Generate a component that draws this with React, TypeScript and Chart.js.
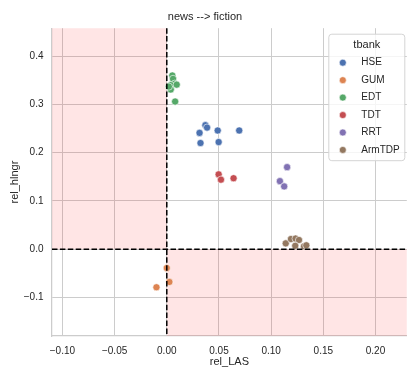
import React, { useEffect, useRef } from "react";
import { Chart, registerables } from "chart.js";
Chart.register(...registerables);

const FONT = "'Liberation Sans', Arial, sans-serif";

const seriesNames = ["HSE", "GUM", "EDT", "TDT", "RRT", "ArmTDP"];
const seriesColors = ["#4c72b0", "#dd8452", "#55a868", "#c44e52", "#8172b3", "#937860"];

const hseX = [0.037, 0.0386, 0.0314, 0.0488, 0.0694, 0.0323, 0.0497];
const hseY = [0.257, 0.252, 0.241, 0.246, 0.246, 0.22, 0.222];
const gumX = [0.0, 0.0025, -0.0099];
const gumY = [-0.039, -0.068, -0.079];
const edtX = [0.0053, 0.006, 0.0076, 0.0038, 0.0095, 0.0038, 0.002, 0.008];
const edtY = [0.36, 0.353, 0.343, 0.34, 0.341, 0.331, 0.337, 0.306];
const tdtX = [0.0497, 0.0519, 0.064];
const tdtY = [0.155, 0.144, 0.147];
const rrtX = [0.1153, 0.1084, 0.1125];
const rrtY = [0.17, 0.141, 0.13];
const armX = [0.114, 0.119, 0.1234, 0.1267, 0.1231, 0.1315, 0.1337];
const armY = [0.012, 0.021, 0.022, 0.019, 0.007, 0.006, 0.008];

const seriesX = [hseX, gumX, edtX, tdtX, rrtX, armX];
const seriesY = [hseY, gumY, edtY, tdtY, rrtY, armY];

const xTicks = [-0.1, -0.05, 0.0, 0.05, 0.1, 0.15, 0.2];
const yTicks = [-0.1, 0.0, 0.1, 0.2, 0.3, 0.4];
const xRange = [-0.11, 0.23];
const yRange = [-0.18, 0.458];

const chartTitle = "news --> fiction";
const xTitle = "rel_LAS";
const yTitle = "rel_hlngr";
const legendTitle = "tbank";

const fmt = (v: number, d: number) => {
  let s = Math.abs(v) < 1e-9 ? (0).toFixed(d) : v.toFixed(d);
  return s.replace("-", "\u2212");
};

const quadrantPlugin = {
  id: "quadrants",
  beforeDatasetsDraw(chart: any) {
    const { ctx, chartArea: a, scales } = chart;
    const x0 = scales.x.getPixelForValue(0);
    const y0 = scales.y.getPixelForValue(0);
    ctx.save();
    ctx.fillStyle = "rgba(255,0,0,0.1)";
    ctx.fillRect(a.left, a.top, x0 - a.left, y0 - a.top);
    ctx.fillRect(x0, y0, a.right - x0, a.bottom - y0);
    ctx.restore();
  },
  afterDatasetsDraw(chart: any) {
    const { ctx, chartArea: a, scales } = chart;
    const x0 = scales.x.getPixelForValue(0);
    const y0 = scales.y.getPixelForValue(0);
    ctx.save();
    ctx.strokeStyle = "#000";
    ctx.lineWidth = 1.5;
    ctx.setLineDash([5.5, 2.4]);
    ctx.beginPath();
    ctx.moveTo(x0, a.top);
    ctx.lineTo(x0, a.bottom);
    ctx.stroke();
    ctx.beginPath();
    ctx.moveTo(a.left, y0);
    ctx.lineTo(a.right, y0);
    ctx.stroke();
    ctx.restore();
  },
};

const legendPlugin = {
  id: "innerLegend",
  afterDraw(chart: any) {
    const { ctx, chartArea: a } = chart;
    const w = 76;
    const h = 126.5;
    const x = a.right - 2 - w;
    const y = a.top + 6;
    const r = 3;
    ctx.save();
    ctx.beginPath();
    ctx.moveTo(x + r, y);
    ctx.lineTo(x + w - r, y);
    ctx.arcTo(x + w, y, x + w, y + r, r);
    ctx.lineTo(x + w, y + h - r);
    ctx.arcTo(x + w, y + h, x + w - r, y + h, r);
    ctx.lineTo(x + r, y + h);
    ctx.arcTo(x, y + h, x, y + h - r, r);
    ctx.lineTo(x, y + r);
    ctx.arcTo(x, y, x + r, y, r);
    ctx.closePath();
    ctx.fillStyle = "rgba(255,255,255,0.8)";
    ctx.fill();
    ctx.strokeStyle = "#d4d4d4";
    ctx.lineWidth = 1;
    ctx.stroke();

    ctx.fillStyle = "#262626";
    ctx.textBaseline = "middle";
    ctx.textAlign = "center";
    ctx.font = `11px ${FONT}`;
    ctx.fillText(legendTitle, x + w / 2, y + 11);

    ctx.textAlign = "left";
    ctx.font = `10px ${FONT}`;
    chart.data.datasets.forEach((ds: any, i: number) => {
      const cy = y + 28.5 + i * 17.45;
      ctx.beginPath();
      ctx.arc(x + 14, cy, 3.5, 0, Math.PI * 2);
      ctx.fillStyle = ds.backgroundColor;
      ctx.fill();
      ctx.strokeStyle = "#fff";
      ctx.lineWidth = 0.6;
      ctx.stroke();
      ctx.fillStyle = "#262626";
      ctx.fillText(ds.label, x + 32.5, cy);
    });
    ctx.restore();
  },
};

export default function App() {
  const ref = useRef<HTMLCanvasElement | null>(null);
  useEffect(() => {
    if (!ref.current) return;
    const datasets = seriesNames.map((name, i) => ({
      label: name,
      data: seriesX[i].map((xv, j) => ({ x: xv, y: seriesY[i][j] })),
      backgroundColor: seriesColors[i],
      borderColor: "#ffffff",
      borderWidth: 0.6,
      pointRadius: 3.6,
      pointHoverRadius: 3.6,
    }));
    const chart = new Chart(ref.current, {
      type: "scatter",
      data: { datasets },
      plugins: [quadrantPlugin, legendPlugin],
      options: {
        animation: false,
        responsive: true,
        maintainAspectRatio: false,
        layout: { padding: { left: 0, right: 1, top: 0, bottom: 0 } },
        plugins: {
          legend: { display: false },
          tooltip: { enabled: false },
          title: {
            display: true,
            text: chartTitle,
            color: "#262626",
            font: { family: FONT, size: 11, weight: "normal" },
            padding: { top: 10, bottom: 5 },
          },
        },
        scales: {
          x: {
            type: "linear",
            min: xRange[0],
            max: xRange[1],
            afterBuildTicks: (s: any) => {
              s.ticks = xTicks.map((v) => ({ value: v }));
            },
            afterFit: (s: any) => {
              s.height = 36;
            },
            ticks: {
              includeBounds: false,
              padding: 9,
              color: "#262626",
              font: { family: FONT, size: 10 },
              maxRotation: 0,
              callback: (v: any) => fmt(Number(v), 2),
            },
            grid: { color: "#cccccc", lineWidth: 1, drawTicks: false },
            border: { display: true, color: "#cccccc", width: 1.25 },
            title: {
              display: true,
              text: xTitle,
              color: "#262626",
              font: { family: FONT, size: 11 },
              padding: { top: 3.4, bottom: 3.4 },
            },
          },
          y: {
            type: "linear",
            min: yRange[0],
            max: yRange[1],
            afterBuildTicks: (s: any) => {
              s.ticks = yTicks.map((v) => ({ value: v }));
            },
            afterFit: (s: any) => {
              s.width = 52;
            },
            ticks: {
              includeBounds: false,
              padding: 8.5,
              color: "#262626",
              font: { family: FONT, size: 10 },
              callback: (v: any) => fmt(Number(v), 1),
            },
            grid: { color: "#cccccc", lineWidth: 1, drawTicks: false },
            border: { display: true, color: "#cccccc", width: 1.25 },
            title: {
              display: true,
              text: yTitle,
              color: "#262626",
              font: { family: FONT, size: 11 },
              padding: { top: 8.4, bottom: 8.4 },
            },
          },
        },
      },
    } as any);
    return () => chart.destroy();
  }, []);
  return (
    <div style={{ position: "absolute", left: 0, top: 0, width: 411, height: 372 }}>
      <canvas ref={ref} />
    </div>
  );
}
